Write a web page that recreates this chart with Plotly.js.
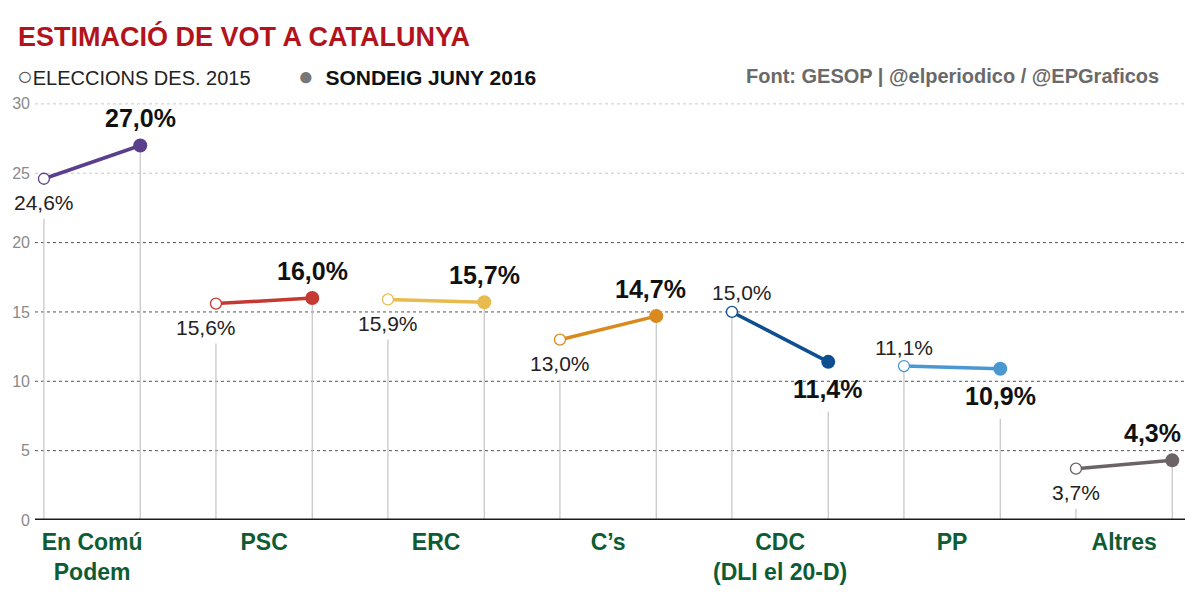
<!DOCTYPE html>
<html><head><meta charset="utf-8">
<script src="https://cdn.plot.ly/plotly-3.0.1.min.js"></script>
<style>body{margin:0;background:#fff}</style>
</head><body>
<div id="chart" style="width:1200px;height:595px"></div>
<script>
// ---- data ----
const parties = ['En Comú<br>Podem', 'PSC', 'ERC', 'C’s', 'CDC<br>(DLI el 20-D)', 'PP', 'Altres'];
const vote2015 = [24.6, 15.6, 15.9, 13.0, 15.0, 11.1, 3.7];
const vote2016 = [27.0, 16.0, 15.7, 14.7, 11.4, 10.9, 4.3];
const partyColors = ['#5b3f8c', '#c43a33', '#e8bb4e', '#d88a1e', '#0e4f91', '#4a98d2', '#6c6367'];
const yTicks = [0, 5, 10, 15, 20, 25, 30];
const label2015Side = ['below', 'below', 'below', 'below', 'above', 'above', 'below'];
const label2016Side = ['above', 'above', 'above', 'above', 'below', 'below', 'above'];

// ---- layout constants ----
const W = 1200, H = 595;
const M = {l: 35, r: 15, t: 90, b: 75};
const yMax = 31;
const plotH = H - M.t - M.b, plotW = W - M.l - M.r;
const pxPerUnit = plotH / yMax;
const dx = 0.56; // offset between 2015 and 2016 within group
const xRange = [-0.052, 6.634];
const FONT = 'Liberation Sans, Arial, sans-serif';
const fmt = v => v.toFixed(1).replace('.', ',') + '%';
const px2paperX = p => (p - M.l) / plotW;
const px2paperY = p => (H - M.b - p) / plotH;
const labelXShift2015 = {1: -10, 4: 10};
const labelXShift2016 = {3: -6, 6: -20};

const traces = [];
const shapes = [];
const annotations = [];

// gridlines
yTicks.filter(v => v > 0).forEach(v => {
  shapes.push({type: 'line', xref: 'paper', yref: 'y', x0: 0, x1: 1, y0: v, y1: v, layer: 'below',
    line: {color: v >= 25 ? '#c8c8c8' : '#555', width: 1, dash: 'dot'}});
});

parties.forEach((p, i) => {
  const c = partyColors[i];
  const xs = [i, i + dx];
  // drop lines
  const top15 = label2015Side[i] === 'below' ? vote2015[i] - 40 / pxPerUnit : vote2015[i];
  const top16 = label2016Side[i] === 'below' ? vote2016[i] - 50 / pxPerUnit : vote2016[i];
  shapes.push({type: 'line', xref: 'x', yref: 'y', x0: xs[0], x1: xs[0], y0: 0, y1: top15, layer: 'below', line: {color: '#c4c4c4', width: 1.2}});
  shapes.push({type: 'line', xref: 'x', yref: 'y', x0: xs[1], x1: xs[1], y0: 0, y1: top16, layer: 'below', line: {color: '#c4c4c4', width: 1.2}});

  traces.push({
    type: 'scatter', mode: 'lines+markers', x: xs, y: [vote2015[i], vote2016[i]],
    line: {color: c, width: 3.5},
    marker: {size: [11, 14], opacity: 1, color: ['#ffffff', c], line: {color: c, width: [1.3, 0]}},
    hoverinfo: 'skip', showlegend: false, cliponaxis: false
  });

  annotations.push({
    x: xs[0], y: vote2015[i], xref: 'x', yref: 'y', text: fmt(vote2015[i]), showarrow: false,
    yanchor: 'middle', xanchor: 'center', yshift: label2015Side[i] === 'below' ? -24 : 19,
    xshift: labelXShift2015[i] || 0,
    font: {family: FONT, size: 21, color: '#222'}
  });
  annotations.push({
    x: xs[1], y: vote2016[i], xref: 'x', yref: 'y', text: '<b>' + fmt(vote2016[i]) + '</b>', showarrow: false,
    yanchor: 'middle', xanchor: 'center', yshift: label2016Side[i] === 'below' ? -27 : 27,
    xshift: labelXShift2016[i] || 0,
    font: {family: FONT, size: 25, color: '#111'}
  });
});

// baseline axis
shapes.push({type: 'line', xref: 'paper', yref: 'y', x0: 0, x1: 1, y0: 0, y1: 0, line: {color: '#1a1a1a', width: 3}});

// legend + source
annotations.push({xref: 'paper', yref: 'paper', x: px2paperX(15), y: px2paperY(76), xanchor: 'left', yanchor: 'middle', showarrow: false,
  text: '<span style="color:#555;font-size:26px">○</span>ELECCIONS DES. 2015', font: {family: FONT, size: 20, color: '#222'}});
annotations.push({xref: 'paper', yref: 'paper', x: px2paperX(296), y: px2paperY(76), xanchor: 'left', yanchor: 'middle', showarrow: false,
  text: '<span style="color:#777;font-size:26px">●</span>  <b>SONDEIG JUNY 2016</b>', font: {family: FONT, size: 21, color: '#111'}});
annotations.push({xref: 'paper', yref: 'paper', x: px2paperX(1161), y: px2paperY(76), xanchor: 'right', yanchor: 'middle', showarrow: false,
  text: '<b>Font: GESOP | @elperiodico / @EPGraficos</b>', font: {family: FONT, size: 20, color: '#6a6a6a'}});

const layout = {
  width: W, height: H, margin: M,
  paper_bgcolor: '#fff', plot_bgcolor: '#fff',
  title: {text: '<b>ESTIMACIÓ DE VOT A CATALUNYA</b>', xref: 'container', yref: 'container',
    x: 18 / W, xanchor: 'left', y: 1 - 37 / H, yanchor: 'middle',
    font: {family: FONT, size: 27, color: '#b3141c'}},
  xaxis: {range: xRange, showgrid: false, zeroline: false, showline: false, ticks: '',
    tickvals: parties.map((p, i) => i + dx / 2), ticktext: parties.map(p => '<b>' + p + '</b>'),
    ticklabelstandoff: 6,
    tickfont: {family: FONT, size: 23, color: '#0d5c34'}, fixedrange: true},
  yaxis: {range: [0, yMax], showgrid: false, zeroline: false, showline: false, ticks: '',
    tickvals: yTicks, ticktext: yTicks.map(String), ticklabelstandoff: 4,
    tickfont: {family: FONT, size: 16, color: '#8a8a8a'}, fixedrange: true},
  shapes: shapes, annotations: annotations, showlegend: false
};

Plotly.newPlot('chart', traces, layout, {displayModeBar: false, staticPlot: true});
</script>
</body></html>
